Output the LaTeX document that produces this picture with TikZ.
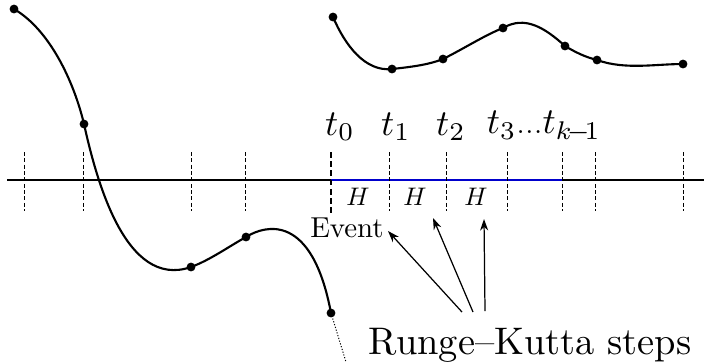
\documentclass[tikz,border=0pt]{standalone}
\usetikzlibrary{arrows.meta}
\begin{document}
\begin{tikzpicture}[x=0.26pt,y=-0.26pt,
  curve/.style={line width=0.55pt},
  axis/.style={line width=0.4pt},
  tick/.style={line width=0.25pt, dash pattern=on 1.05pt off 0.6pt},
  evtick/.style={line width=0.6pt, dash pattern=on 1.5pt off 0.9pt},
  dot/.style={circle, fill=black, inner sep=0pt, minimum size=2.3pt},
  tlab/.style={inner sep=0pt, scale=0.95},
  hlab/.style={inner sep=0pt, scale=0.66},
  rk/.style={-{Stealth[length=3pt,width=2.1pt]}, line width=0.32pt}]
\useasboundingbox (0,0) rectangle (704,362);
% axis
\coordinate (axL) at (7,180);
\coordinate (axR) at (704,180);
\coordinate (b0) at (331,180);
\coordinate (b1) at (562,180);
\draw[axis] (axL) -- (axR);
\draw[axis, blue!80!black] (b0) -- (b1);
% ticks
\foreach \x in {24,83,191,245,389,446,507,562,595,683}
  \draw[tick] (\x,152) -- (\x,211);
\draw[evtick] (331,152) -- (331,213);
% labels
\node[tlab] (t0) at (340,127) {$t_0$};
\node[tlab] (t1) at (396,127) {$t_1$};
\node[tlab] (t2) at (451,127) {$t_2$};
\node[tlab] (t3) at (544,127) {$t_3{\scriptstyle\ldots}t_{k\!-\!1}$};
\node[hlab] (h1) at (358,197) {$H$};
\node[hlab] (h2) at (415,197) {$H$};
\node[hlab] (h3) at (476,197) {$H$};
\node[inner sep=0pt, scale=0.75] (ev) at (347,228) {Event};
\node[inner sep=0pt] (rks) at (530,345) {Runge--Kutta steps};
% left curve
\coordinate (p1) at (14,9);
\coordinate (p2) at (84,124);
\coordinate (p3) at (191,267);
\coordinate (p4) at (246,237);
\coordinate (p5) at (331,313);
\coordinate (pe) at (346,362);
\draw[curve] (p1) .. controls (50,30) and (74,82) .. (p2)
  .. controls (96,178) and (125,290) .. (p3)
  .. controls (210,260) and (228,247) .. (p4)
  .. controls (265,225) and (312,212) .. (p5);
\draw[line width=0.25pt, dash pattern=on 0.3pt off 0.45pt] (p5) -- (pe);
\foreach \p in {p1,p2,p3,p4,p5} \node[dot] at (\p) {};
% upper curve
\coordinate (q1) at (333,17);
\coordinate (q2) at (392,69);
\coordinate (q3) at (443,59);
\coordinate (q4) at (503,28);
\coordinate (q5) at (565,46);
\coordinate (q6) at (597,60);
\coordinate (q7) at (683,64);
\draw[curve] (q1) .. controls (345,45) and (365,72) .. (q2)
  .. controls (410,67) and (428,65) .. (q3)
  .. controls (465,48) and (485,35) .. (q4)
  .. controls (525,15) and (545,28) .. (q5)
  .. controls (575,52) and (585,57) .. (q6)
  .. controls (625,70) and (655,64) .. (q7);
\foreach \p in {q1,q2,q3,q4,q5,q6,q7} \node[dot] at (\p) {};
% arrows
\coordinate (a1) at (462,312);
\coordinate (a2) at (473,312);
\coordinate (a3) at (485,311);
\coordinate (e1) at (388,231);
\coordinate (e2) at (433,218);
\coordinate (e3) at (484,219);
\draw[rk] (a1) -- (e1);
\draw[rk] (a2) -- (e2);
\draw[rk] (a3) -- (e3);
\end{tikzpicture}
\end{document}
